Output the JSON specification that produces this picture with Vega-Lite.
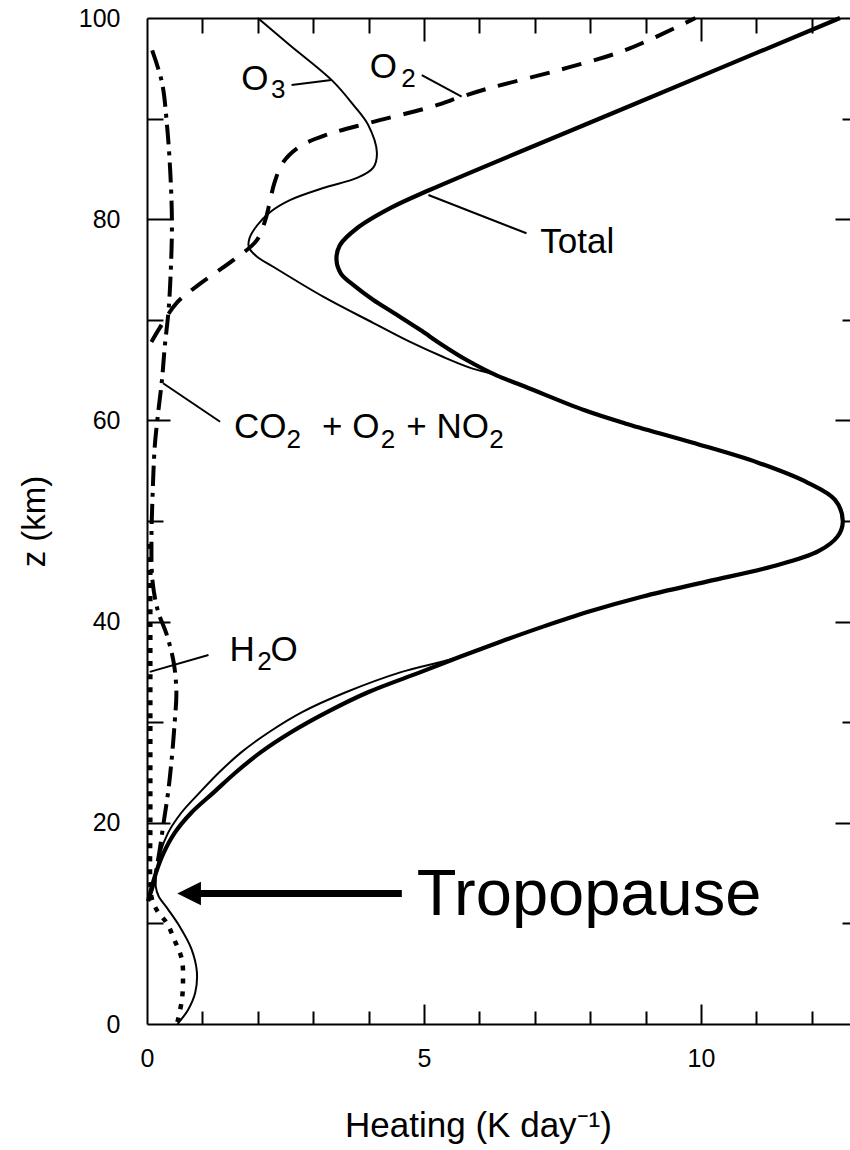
{
  "$schema": "https://vega.github.io/schema/vega-lite/v6.json",
  "width": 703,
  "height": 1006,
  "autosize": {"type": "none"},
  "padding": {"left": 147, "top": 18, "right": 0, "bottom": 126},
  "background": "white",
  "config": {
    "view": {"stroke": null},
    "axis": {
      "grid": false,
      "labelFont": "Liberation Sans",
      "titleFont": "Liberation Sans",
      "titleFontWeight": "normal",
      "labelColor": "black",
      "titleColor": "black",
      "domainColor": "black",
      "tickColor": "black",
      "domainWidth": 2,
      "tickWidth": 2
    }
  },
  "datasets": {
    "curves": [
      {"series": "Total", "x": 12.51, "z": 100}, {"series": "Total", "x": 8.78, "z": 91.4}, {"series": "Total", "x": 5.1, "z": 82.9},
      {"series": "Total", "x": 4.39, "z": 81.1}, {"series": "Total", "x": 3.79, "z": 79.1}, {"series": "Total", "x": 3.48, "z": 77.4},
      {"series": "Total", "x": 3.42, "z": 76.0}, {"series": "Total", "x": 3.5, "z": 74.6}, {"series": "Total", "x": 3.74, "z": 73.4},
      {"series": "Total", "x": 4.08, "z": 72.0}, {"series": "Total", "x": 4.45, "z": 70.7}, {"series": "Total", "x": 4.93, "z": 69.0},
      {"series": "Total", "x": 5.33, "z": 67.5}, {"series": "Total", "x": 5.77, "z": 66.0}, {"series": "Total", "x": 6.3, "z": 64.5},
      {"series": "Total", "x": 6.85, "z": 63.3}, {"series": "Total", "x": 7.9, "z": 61.0},
      {"series": "Total", "x": 8.63, "z": 59.7}, {"series": "Total", "x": 9.84, "z": 57.8}, {"series": "Total", "x": 11.03, "z": 55.8},
      {"series": "Total", "x": 11.93, "z": 53.8}, {"series": "Total", "x": 12.42, "z": 52.1}, {"series": "Total", "x": 12.56, "z": 50.0},
      {"series": "Total", "x": 12.47, "z": 48.5}, {"series": "Total", "x": 12.12, "z": 47.0}, {"series": "Total", "x": 11.3, "z": 45.5},
      {"series": "Total", "x": 10.12, "z": 44.0}, {"series": "Total", "x": 8.95, "z": 42.5}, {"series": "Total", "x": 7.98, "z": 41.0},
      {"series": "Total", "x": 7.15, "z": 39.5}, {"series": "Total", "x": 6.38, "z": 38.0}, {"series": "Total", "x": 5.65, "z": 36.5},
      {"series": "Total", "x": 4.95, "z": 35.0}, {"series": "Total", "x": 4.0, "z": 33.0},
      {"series": "Total", "x": 3.25, "z": 31.0}, {"series": "Total", "x": 2.6, "z": 29.0}, {"series": "Total", "x": 2.05, "z": 27.0},
      {"series": "Total", "x": 1.6, "z": 25.0}, {"series": "Total", "x": 1.2, "z": 23.0}, {"series": "Total", "x": 0.8, "z": 21.0},
      {"series": "Total", "x": 0.5, "z": 19.0}, {"series": "Total", "x": 0.3, "z": 17.0}, {"series": "Total", "x": 0.16, "z": 15.0},
      {"series": "Total", "x": 0.08, "z": 13.5}, {"series": "Total", "x": 0.02, "z": 12.2},

      {"series": "O3", "x": 2.0, "z": 100}, {"series": "O3", "x": 2.58, "z": 97.3}, {"series": "O3", "x": 3.34, "z": 93.8},
      {"series": "O3", "x": 3.72, "z": 91.4}, {"series": "O3", "x": 3.99, "z": 89.4}, {"series": "O3", "x": 4.15, "z": 86.6},
      {"series": "O3", "x": 4.08, "z": 85.1}, {"series": "O3", "x": 3.79, "z": 84.1}, {"series": "O3", "x": 3.18, "z": 83.1},
      {"series": "O3", "x": 2.58, "z": 81.9}, {"series": "O3", "x": 2.22, "z": 80.7}, {"series": "O3", "x": 1.99, "z": 79.4},
      {"series": "O3", "x": 1.85, "z": 78.1}, {"series": "O3", "x": 1.84, "z": 77.2}, {"series": "O3", "x": 1.98, "z": 76.3},
      {"series": "O3", "x": 2.27, "z": 75.3}, {"series": "O3", "x": 3.18, "z": 72.3}, {"series": "O3", "x": 4.08, "z": 69.7},
      {"series": "O3", "x": 4.75, "z": 67.8}, {"series": "O3", "x": 5.35, "z": 66.3}, {"series": "O3", "x": 5.85, "z": 65.2},
      {"series": "O3", "x": 6.3, "z": 64.5}, {"series": "O3", "x": 6.85, "z": 63.3}, {"series": "O3", "x": 7.9, "z": 61.0},
      {"series": "O3", "x": 8.63, "z": 59.7}, {"series": "O3", "x": 9.84, "z": 57.8}, {"series": "O3", "x": 11.03, "z": 55.8},
      {"series": "O3", "x": 11.93, "z": 53.8}, {"series": "O3", "x": 12.42, "z": 52.1}, {"series": "O3", "x": 12.56, "z": 50.0},
      {"series": "O3", "x": 12.47, "z": 48.5}, {"series": "O3", "x": 12.12, "z": 47.0}, {"series": "O3", "x": 11.3, "z": 45.5},
      {"series": "O3", "x": 10.12, "z": 44.0}, {"series": "O3", "x": 8.95, "z": 42.5}, {"series": "O3", "x": 7.98, "z": 41.0},
      {"series": "O3", "x": 7.15, "z": 39.5}, {"series": "O3", "x": 6.38, "z": 38.0}, {"series": "O3", "x": 5.65, "z": 36.5},
      {"series": "O3", "x": 4.6, "z": 35.0}, {"series": "O3", "x": 3.6, "z": 33.0}, {"series": "O3", "x": 2.8, "z": 31.0},
      {"series": "O3", "x": 2.2, "z": 29.0}, {"series": "O3", "x": 1.7, "z": 27.0}, {"series": "O3", "x": 1.3, "z": 25.0},
      {"series": "O3", "x": 0.95, "z": 23.0}, {"series": "O3", "x": 0.62, "z": 21.0}, {"series": "O3", "x": 0.38, "z": 19.0},
      {"series": "O3", "x": 0.24, "z": 17.0}, {"series": "O3", "x": 0.17, "z": 15.0}, {"series": "O3", "x": 0.16, "z": 13.6},
      {"series": "O3", "x": 0.21, "z": 12.7}, {"series": "O3", "x": 0.38, "z": 11.4},
      {"series": "O3", "x": 0.6, "z": 9.6}, {"series": "O3", "x": 0.8, "z": 7.5}, {"series": "O3", "x": 0.9, "z": 5.2},
      {"series": "O3", "x": 0.87, "z": 3.1}, {"series": "O3", "x": 0.74, "z": 1.4}, {"series": "O3", "x": 0.55, "z": 0},

      {"series": "O2", "x": 9.9, "z": 100}, {"series": "O2", "x": 8.63, "z": 96.8}, {"series": "O2", "x": 7.42, "z": 94.8},
      {"series": "O2", "x": 6.23, "z": 93.1}, {"series": "O2", "x": 5.69, "z": 92.2}, {"series": "O2", "x": 5.15, "z": 91.2},
      {"series": "O2", "x": 4.03, "z": 89.6}, {"series": "O2", "x": 3.25, "z": 88.4}, {"series": "O2", "x": 2.75, "z": 87.2},
      {"series": "O2", "x": 2.45, "z": 85.6}, {"series": "O2", "x": 2.3, "z": 83.6}, {"series": "O2", "x": 2.22, "z": 81.8},
      {"series": "O2", "x": 2.14, "z": 80.0},
      {"series": "O2", "x": 1.98, "z": 77.9}, {"series": "O2", "x": 1.55, "z": 75.9}, {"series": "O2", "x": 0.96, "z": 73.6},
      {"series": "O2", "x": 0.54, "z": 71.7}, {"series": "O2", "x": 0.23, "z": 69.2}, {"series": "O2", "x": 0.08, "z": 67.8},

      {"series": "CO2+O2+NO2", "x": 0.08, "z": 97}, {"series": "CO2+O2+NO2", "x": 0.27, "z": 93.6}, {"series": "CO2+O2+NO2", "x": 0.36, "z": 89.4},
      {"series": "CO2+O2+NO2", "x": 0.42, "z": 84.7}, {"series": "CO2+O2+NO2", "x": 0.45, "z": 79.7}, {"series": "CO2+O2+NO2", "x": 0.43, "z": 75},
      {"series": "CO2+O2+NO2", "x": 0.39, "z": 71}, {"series": "CO2+O2+NO2", "x": 0.32, "z": 67.3}, {"series": "CO2+O2+NO2", "x": 0.27, "z": 64},
      {"series": "CO2+O2+NO2", "x": 0.2, "z": 60.7}, {"series": "CO2+O2+NO2", "x": 0.14, "z": 57.4}, {"series": "CO2+O2+NO2", "x": 0.1, "z": 52.4},
      {"series": "CO2+O2+NO2", "x": 0.08, "z": 48}, {"series": "CO2+O2+NO2", "x": 0.1, "z": 44}, {"series": "CO2+O2+NO2", "x": 0.2, "z": 41},
      {"series": "CO2+O2+NO2", "x": 0.35, "z": 38.8}, {"series": "CO2+O2+NO2", "x": 0.48, "z": 36}, {"series": "CO2+O2+NO2", "x": 0.53, "z": 33},
      {"series": "CO2+O2+NO2", "x": 0.5, "z": 30}, {"series": "CO2+O2+NO2", "x": 0.44, "z": 26}, {"series": "CO2+O2+NO2", "x": 0.38, "z": 23},
      {"series": "CO2+O2+NO2", "x": 0.3, "z": 20}, {"series": "CO2+O2+NO2", "x": 0.22, "z": 17}, {"series": "CO2+O2+NO2", "x": 0.12, "z": 14},
      {"series": "CO2+O2+NO2", "x": 0.03, "z": 12.5},

      {"series": "H2O", "x": 0.06, "z": 48}, {"series": "H2O", "x": 0.06, "z": 40}, {"series": "H2O", "x": 0.06, "z": 30},
      {"series": "H2O", "x": 0.06, "z": 20}, {"series": "H2O", "x": 0.06, "z": 14}, {"series": "H2O", "x": 0.09, "z": 12.4},
      {"series": "H2O", "x": 0.18, "z": 11.3}, {"series": "H2O", "x": 0.36, "z": 10.0}, {"series": "H2O", "x": 0.5, "z": 8.3},
      {"series": "H2O", "x": 0.63, "z": 6.4}, {"series": "H2O", "x": 0.65, "z": 4.4}, {"series": "H2O", "x": 0.63, "z": 2.4},
      {"series": "H2O", "x": 0.55, "z": 0.2}
    ],
    "leaders": [
      {"x": 2.61, "z": 93.34, "x2": 3.33, "z2": 93.84},
      {"x": 4.96, "z": 94.33, "x2": 5.68, "z2": 92.18},
      {"x": 5.08, "z": 82.4, "x2": 6.85, "z2": 78.6},
      {"x": 0.29, "z": 63.69, "x2": 1.32, "z2": 59.87},
      {"x": 0.05, "z": 35.0, "x2": 1.11, "z2": 36.68}
    ],
    "labels": [
      {"t": "O", "x": 1.70, "z": 92.84},
      {"t": "O", "x": 4.02, "z": 94.04},
      {"t": "Total", "x": 7.10, "z": 76.64},
      {"t": "CO", "x": 1.57, "z": 58.25},
      {"t": "+ O", "x": 3.16, "z": 58.25},
      {"t": "+ NO", "x": 4.68, "z": 58.25},
      {"t": "H", "x": 1.49, "z": 36.08},
      {"t": "O", "x": 2.23, "z": 36.08}
    ],
    "subscripts": [
      {"t": "3", "x": 2.24, "z": 92.05},
      {"t": "2", "x": 4.59, "z": 93.14},
      {"t": "2", "x": 2.52, "z": 57.26},
      {"t": "2", "x": 4.22, "z": 57.26},
      {"t": "2", "x": 6.18, "z": 57.26},
      {"t": "2", "x": 1.99, "z": 35.19}
    ],
    "arrow": [
      {"t": "Tropopause", "tip": 0.76, "x": 0.96, "x2": 4.6, "z": 12.97, "tx": 4.87, "tz": 10.84}
    ]
  },
  "layer": [
    {
      "data": {"name": "curves"},
      "transform": [{"filter": "datum.series === 'O3'"}],
      "mark": {"type": "line", "color": "black", "strokeWidth": 2, "interpolate": "catmull-rom"},
      "encoding": {
        "x": {
          "field": "x", "type": "quantitative",
          "scale": {"domain": [0, 12.69], "nice": false, "zero": false},
          "axis": {
            "orient": "bottom", "values": [0, 5, 10], "ticks": false, "domain": true,
            "labelFontSize": 25, "labelPadding": 22, "labelFlush": false,
            "title": "Heating (K day⁻¹)", "titleFontSize": 35, "titlePadding": 37, "titleX": 331
          }
        },
        "y": {
          "field": "z", "type": "quantitative",
          "scale": {"domain": [0, 100], "nice": false, "zero": false},
          "axis": {
            "orient": "left", "values": [0, 20, 40, 60, 80, 100], "ticks": false, "domain": true,
            "labelFontSize": 25, "labelPadding": 27,
            "title": "z (km)", "titleFontSize": 33, "titlePadding": 27
          }
        },
        "order": {"field": "z", "type": "quantitative"}
      }
    },
    {
      "data": {"name": "curves"},
      "transform": [{"filter": "datum.series === 'Total'"}],
      "mark": {"type": "line", "color": "black", "strokeWidth": 4.2, "interpolate": "catmull-rom"},
      "encoding": {
        "x": {
          "field": "x", "type": "quantitative",
          "axis": {"orient": "top", "values": [1, 2, 3, 4, 6, 7, 8, 9, 11, 12], "tickSize": -15, "labels": false, "domain": true, "title": null}
        },
        "y": {
          "field": "z", "type": "quantitative",
          "axis": {"orient": "right", "values": [10, 30, 50, 70, 90], "tickSize": -8, "labels": false, "domain": false, "title": null}
        },
        "order": {"field": "z", "type": "quantitative"}
      }
    },
    {
      "data": {"name": "curves"},
      "transform": [{"filter": "datum.series === 'O2'"}],
      "mark": {"type": "line", "color": "black", "strokeWidth": 4, "strokeDash": [20, 13], "interpolate": "catmull-rom"},
      "encoding": {
        "x": {
          "field": "x", "type": "quantitative",
          "axis": {"orient": "bottom", "values": [1, 2, 3, 4, 6, 7, 8, 9, 11, 12], "tickSize": -13, "labels": false, "domain": false, "title": null}
        },
        "y": {
          "field": "z", "type": "quantitative",
          "axis": {"orient": "left", "values": [10, 30, 50, 70, 90], "tickSize": -16, "labels": false, "domain": false, "title": null}
        },
        "order": {"field": "z", "type": "quantitative"}
      }
    },
    {
      "data": {"name": "curves"},
      "transform": [{"filter": "datum.series === 'CO2+O2+NO2'"}],
      "mark": {"type": "line", "color": "black", "strokeWidth": 4, "strokeDash": [20, 7, 4, 7], "interpolate": "catmull-rom"},
      "encoding": {
        "x": {
          "field": "x", "type": "quantitative",
          "axis": {"orient": "bottom", "values": [5, 10], "tickSize": -20, "labels": false, "domain": false, "title": null}
        },
        "y": {
          "field": "z", "type": "quantitative",
          "axis": {"orient": "left", "values": [20, 40, 60, 80], "tickSize": -23, "labels": false, "domain": false, "title": null}
        },
        "order": {"field": "z", "type": "quantitative"}
      }
    },
    {
      "data": {"name": "curves"},
      "transform": [{"filter": "datum.series === 'H2O'"}],
      "mark": {"type": "line", "color": "black", "strokeWidth": 4.5, "strokeDash": [5, 8], "interpolate": "catmull-rom"},
      "encoding": {
        "x": {
          "field": "x", "type": "quantitative",
          "axis": {"orient": "top", "values": [5, 10], "tickSize": -23, "labels": false, "domain": false, "title": null}
        },
        "y": {
          "field": "z", "type": "quantitative",
          "axis": {"orient": "right", "values": [20, 40, 60, 80], "tickSize": -15, "labels": false, "domain": false, "title": null}
        },
        "order": {"field": "z", "type": "quantitative"}
      }
    },
    {
      "data": {"name": "leaders"},
      "mark": {"type": "rule", "color": "black", "strokeWidth": 2},
      "encoding": {
        "x": {"field": "x", "type": "quantitative", "axis": null},
        "x2": {"field": "x2"},
        "y": {"field": "z", "type": "quantitative", "axis": null},
        "y2": {"field": "z2"}
      }
    },
    {
      "data": {"name": "arrow"},
      "mark": {"type": "rule", "color": "black", "strokeWidth": 7, "strokeCap": "butt"},
      "encoding": {
        "x": {"field": "x", "type": "quantitative", "axis": null},
        "x2": {"field": "x2"},
        "y": {"field": "z", "type": "quantitative", "axis": null}
      }
    },
    {
      "data": {"name": "arrow"},
      "mark": {"type": "point", "shape": "M -1 0 L 1 -1 L 1 1 Z", "filled": true, "color": "black", "opacity": 1, "size": 560, "strokeWidth": 0},
      "encoding": {
        "x": {"field": "tip", "type": "quantitative", "axis": null},
        "y": {"field": "z", "type": "quantitative", "axis": null}
      }
    },
    {
      "data": {"name": "arrow"},
      "mark": {"type": "text", "font": "Liberation Sans", "fontSize": 65, "align": "left", "baseline": "alphabetic", "color": "black"},
      "encoding": {
        "x": {"field": "tx", "type": "quantitative", "axis": null},
        "y": {"field": "tz", "type": "quantitative", "axis": null},
        "text": {"field": "t"}
      }
    },
    {
      "data": {"name": "labels"},
      "mark": {"type": "text", "font": "Liberation Sans", "fontSize": 35, "align": "left", "baseline": "alphabetic", "color": "black"},
      "encoding": {
        "x": {"field": "x", "type": "quantitative", "axis": null},
        "y": {"field": "z", "type": "quantitative", "axis": null},
        "text": {"field": "t"}
      }
    },
    {
      "data": {"name": "subscripts"},
      "mark": {"type": "text", "font": "Liberation Sans", "fontSize": 26, "align": "left", "baseline": "alphabetic", "color": "black"},
      "encoding": {
        "x": {"field": "x", "type": "quantitative", "axis": null},
        "y": {"field": "z", "type": "quantitative", "axis": null},
        "text": {"field": "t"}
      }
    }
  ],
  "resolve": {"axis": {"x": "independent", "y": "independent"}}
}
